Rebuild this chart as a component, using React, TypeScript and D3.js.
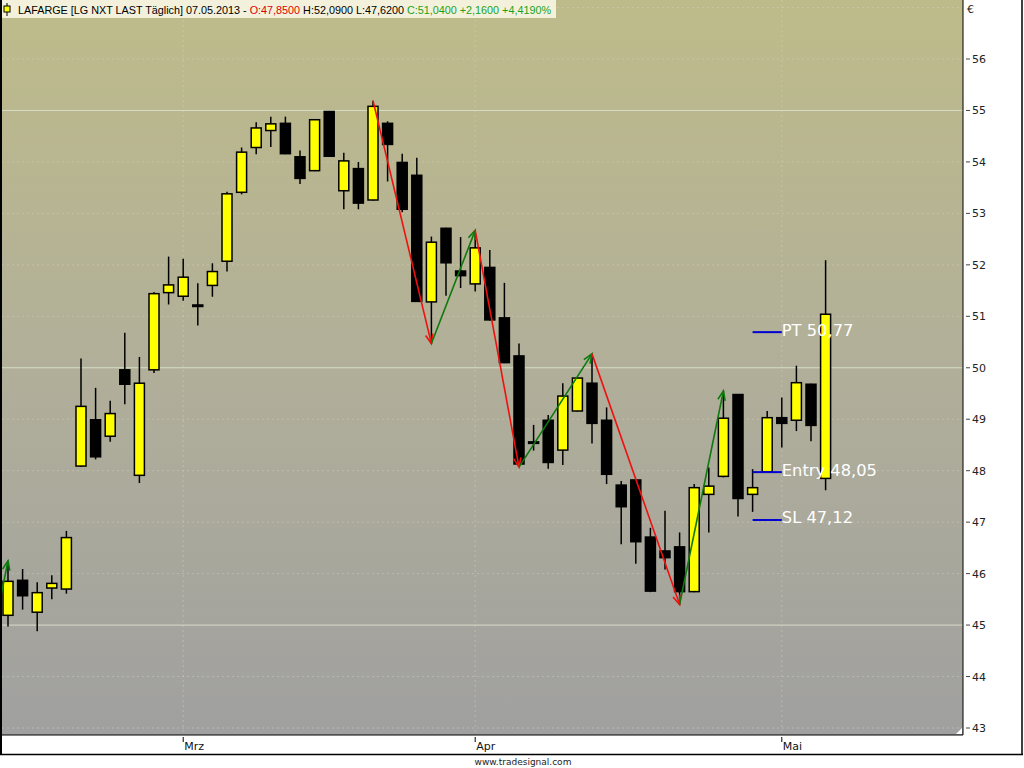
import React from 'react';
import * as d3 from 'd3';

// LAFARGE daily, 13.02.2013 - 07.05.2013
const dates = [
  '2013-02-13', '2013-02-14', '2013-02-15', '2013-02-18', '2013-02-19', '2013-02-20', '2013-02-21', '2013-02-22',
  '2013-02-25', '2013-02-26', '2013-02-27', '2013-02-28',
  '2013-03-01', '2013-03-04', '2013-03-05', '2013-03-06', '2013-03-07', '2013-03-08', '2013-03-11', '2013-03-12',
  '2013-03-13', '2013-03-14', '2013-03-15', '2013-03-18', '2013-03-19', '2013-03-20', '2013-03-21', '2013-03-22',
  '2013-03-25', '2013-03-26', '2013-03-27', '2013-03-28',
  '2013-04-02', '2013-04-03', '2013-04-04', '2013-04-05', '2013-04-08', '2013-04-09', '2013-04-10', '2013-04-11',
  '2013-04-12', '2013-04-15', '2013-04-16', '2013-04-17', '2013-04-18', '2013-04-19', '2013-04-22', '2013-04-23',
  '2013-04-24', '2013-04-25', '2013-04-26', '2013-04-29', '2013-04-30',
  '2013-05-02', '2013-05-03', '2013-05-06', '2013-05-07',
];

const opens = [
  45.19, 45.87, 45.25, 45.72, 45.70, 48.09, 48.99, 48.67, 49.96, 47.91,
  49.96, 51.46, 51.39, 51.22, 51.60, 52.07, 53.41, 54.28, 54.61, 54.75,
  54.10, 53.83, 54.98, 53.44, 53.87, 53.26, 54.75, 53.99, 53.74, 51.28,
  52.71, 51.88, 51.63, 51.95, 50.97, 50.23, 48.56, 48.98, 48.40, 49.16,
  49.70, 48.98, 47.72, 47.82, 46.71, 46.44, 46.52, 45.65, 47.54, 47.89,
  49.48, 47.54, 47.98, 49.03, 48.98, 49.68, 47.85,
];
const highs = [
  46.25, 46.09, 45.83, 45.97, 46.83, 50.18, 49.61, 49.36, 50.68, 50.21,
  51.47, 52.16, 52.12, 51.64, 52.03, 53.42, 54.28, 54.77, 54.88, 54.88,
  54.22, 54.83, 54.99, 54.18, 54.00, 55.19, 54.79, 54.16, 54.08, 52.55,
  52.72, 52.54, 52.67, 52.29, 51.65, 50.47, 48.89, 49.08, 49.70, 49.82,
  50.27, 49.23, 47.80, 47.83, 46.89, 47.22, 46.80, 47.74, 48.06, 49.55,
  49.49, 48.03, 49.16, 49.42, 50.04, 49.69, 52.09,
];
const lows = [
  44.97, 45.30, 44.88, 45.50, 45.61, 48.07, 48.22, 48.56, 49.29, 47.76,
  49.90, 51.23, 51.30, 50.82, 51.38, 51.87, 53.37, 54.15, 54.29, 54.15,
  53.57, 53.82, 54.10, 53.08, 53.08, 53.25, 53.62, 53.02, 51.28, 50.47,
  51.40, 51.55, 51.48, 50.92, 50.09, 48.07, 48.39, 48.04, 48.11, 49.15,
  48.53, 47.74, 46.57, 46.19, 45.64, 46.08, 45.40, 45.64, 46.80, 47.87,
  47.11, 47.20, 47.97, 48.45, 48.77, 48.57, 47.62,
];
const closes = [
  45.85, 45.57, 45.63, 45.81, 46.70, 49.25, 48.27, 49.11, 49.68, 49.70,
  51.44, 51.61, 51.76, 51.20, 51.87, 53.38, 54.19, 54.66, 54.74, 54.16,
  53.68, 54.82, 54.11, 54.02, 53.20, 55.08, 54.34, 53.08, 51.29, 52.44,
  52.04, 51.79, 52.33, 50.93, 50.10, 48.13, 48.54, 48.16, 49.45, 49.80,
  48.92, 47.93, 47.30, 46.62, 45.66, 46.31, 45.65, 47.67, 47.70, 49.02,
  47.46, 47.67, 49.03, 48.92, 49.71, 48.88, 51.04,
];

// zigzag runs (bar index, price); run 1 comes in from off-chart
const zigRun1Idx = [-1, 0];
const zigRun1Val = [44.83, 46.25];
const zigRun2Idx = [25, 29, 32, 35, 40, 46, 49];
const zigRun2Val = [55.19, 50.47, 52.67, 48.07, 50.27, 45.40, 49.55];

// trade levels
const levelNames = ['PT', 'Entry', 'SL'];
const levelValues = [50.77, 48.05, 47.12];
const levelFrom = 51;
const levelTo = 53;

const yTicks = [43, 44, 45, 46, 47, 48, 49, 50, 51, 52, 53, 54, 55, 56];
const gridLevels = [43, 44, 45, 46, 47, 48, 49, 50, 51, 52, 53, 54, 55, 56, 57];
const majorGrid = [45, 50, 55];
const monthLabels = ['Mrz', 'Apr', 'Mai'];
const monthStarts = ['2013-03-01', '2013-04-02', '2013-05-02'];

const W = 1024;
const H = 768;
const plot = { left: 2, right: 963, top: 0, bottom: 735 };

const fmt = (v: number) => v.toFixed(2).replace('.', ',');
const fmt4 = (v: number) => v.toFixed(4).replace('.', ',');

export default function App() {
  const x = d3.scaleLinear().domain([0, 56]).range([8, 825.6]);
  const y = d3.scaleLinear().domain([43, 56]).range([728, 59]);
  const bodyW = 10;

  const n = dates.length;
  const last = n - 1;
  const chg = closes[last] - closes[last - 1];
  const pct = (chg / closes[last - 1]) * 100;
  const d = dates[last].split('-');
  const dateStr = `${d[2]}.${d[1]}.${d[0]}`;

  const buildSegs = (idx: number[], val: number[]) =>
    idx.slice(1).map((xi, i) => {
      const x1 = x(idx[i]);
      const y1 = y(val[i]);
      const x2 = x(xi);
      const y2 = y(val[i + 1]);
      const up = val[i + 1] > val[i];
      const ang = Math.atan2(y2 - y1, x2 - x1);
      const len = 10;
      const spread = 0.38;
      const hx1 = x2 - len * Math.cos(ang - spread);
      const hy1 = y2 - len * Math.sin(ang - spread);
      const hx2 = x2 - len * Math.cos(ang + spread);
      const hy2 = y2 - len * Math.sin(ang + spread);
      return { x1, y1, x2, y2, up, head: `M${hx1},${hy1}L${x2},${y2}L${hx2},${hy2}` };
    });
  const segments = [...buildSegs(zigRun1Idx, zigRun1Val), ...buildSegs(zigRun2Idx, zigRun2Val)];

  const axisFont = "Tahoma, 'DejaVu Sans', sans-serif";

  return (
    <svg width={W} height={H} style={{ position: 'absolute', left: 0, top: 0, background: '#fff' }}>
      <defs>
        <linearGradient id="bg" x1="0" y1="0" x2="0" y2="1">
          <stop offset="0%" stopColor="#bebb8a" />
          <stop offset="50%" stopColor="#b1af99" />
          <stop offset="100%" stopColor="#a0a0a0" />
        </linearGradient>
        <clipPath id="plotClip">
          <rect x={plot.left} y={plot.top} width={plot.right - plot.left} height={plot.bottom - plot.top} />
        </clipPath>
      </defs>

      <rect x={0} y={0} width={W} height={H} fill="#fff" />
      <rect x={plot.left} y={plot.top} width={plot.right - plot.left} height={plot.bottom - plot.top} fill="url(#bg)" />

      {/* grid */}
      <g clipPath="url(#plotClip)">
        {gridLevels.map((v) =>
          majorGrid.includes(v) ? (
            <line key={v} x1={plot.left} x2={plot.right} y1={y(v)} y2={y(v)} stroke="#d6ddc8" strokeWidth={1} />
          ) : (
            <line key={v} x1={plot.left} x2={plot.right} y1={y(v)} y2={y(v)} stroke="#d4d3c2" strokeOpacity={0.45} strokeWidth={1} strokeDasharray="2,3" />
          )
        )}
        {monthStarts.map((m) => {
          const xi = x(dates.indexOf(m));
          return <line key={m} x1={xi} x2={xi} y1={plot.top} y2={plot.bottom} stroke="#d4d3c2" strokeOpacity={0.45} strokeDasharray="2,3" />;
        })}
      </g>

      {/* header */}
      <rect x={0} y={0} width={556} height={18} fill="#f3f1dc" />
      <line x1={7} x2={7} y1={3} y2={16} stroke="#000" strokeWidth={1} />
      <rect x={4} y={6} width={6} height={6} fill="#ffff00" stroke="#000" strokeWidth={1} />
      <text x={18} y={13.5} fontFamily="'Liberation Sans', Arial, sans-serif" fontSize={10.8} fill="#000">
        <tspan>{`LAFARGE [LG NXT LAST Täglich] ${dateStr} - `}</tspan>
        <tspan fill="#e00000">{`O:${fmt4(opens[last])}`}</tspan>
        <tspan>{` H:${fmt4(highs[last])} L:${fmt4(lows[last])} `}</tspan>
        <tspan fill="#1aa31a">{`C:${fmt4(closes[last])} +${fmt4(chg)} +${fmt4(pct)}%`}</tspan>
      </text>

      {/* candles */}
      <g clipPath="url(#plotClip)">
        {dates.map((dt, i) => {
          const cx = x(i);
          const up = closes[i] >= opens[i];
          const top = y(Math.max(opens[i], closes[i]));
          const bot = y(Math.min(opens[i], closes[i]));
          const h = Math.max(bot - top, 1.5);
          return (
            <g key={dt}>
              <line x1={cx} x2={cx} y1={y(highs[i])} y2={y(lows[i])} stroke="#000" strokeWidth={1.5} />
              <rect x={cx - bodyW / 2} y={top} width={bodyW} height={h} fill={up ? '#ffff00' : '#000'} stroke="#000" strokeWidth={1.5} />
            </g>
          );
        })}

        {/* zigzag arrows */}
        {segments.map((s, i) => (
          <g key={i} stroke={s.up ? '#0c7a0c' : '#f01010'} strokeWidth={1.6} fill="none">
            <line x1={s.x1} y1={s.y1} x2={s.x2} y2={s.y2} />
            <path d={s.head} />
          </g>
        ))}

        {/* trade levels */}
        {levelNames.map((name, i) => {
          const ly = y(levelValues[i]) + 4;
          return (
            <g key={name}>
              <line x1={x(levelFrom)} x2={x(levelTo)} y1={ly} y2={ly} stroke="#0000d0" strokeWidth={2} />
              <text x={x(levelTo)} y={ly + 3.5} fill="#fff" fontFamily="'DejaVu Sans', Verdana, sans-serif" fontSize={16.3}>
                {`${name} ${fmt(levelValues[i])}`}
              </text>
            </g>
          );
        })}
      </g>

      {/* resize grip */}
      <path d={`M${plot.right - 1},${plot.bottom - 7}L${plot.right - 1},${plot.bottom - 1}L${plot.right - 7},${plot.bottom - 1}Z`} fill="#fff" />

      {/* frame */}
      <line x1={1} x2={1} y1={0} y2={755} stroke="#000" strokeWidth={2} />
      <line x1={plot.right} x2={plot.right} y1={0} y2={plot.bottom} stroke="#000" strokeWidth={1} />
      <line x1={0} x2={plot.right} y1={plot.bottom} y2={plot.bottom} stroke="#000" strokeWidth={1} />
      <line x1={0} x2={1023} y1={754.5} y2={754.5} stroke="#000" strokeWidth={1.5} />
      <line x1={1022} x2={1022} y1={0} y2={755} stroke="#000" strokeWidth={1.5} />

      {/* right axis */}
      <text x={967} y={13} fontFamily={axisFont} fontSize={11} fill="#222">€</text>
      {yTicks.map((v) => (
        <g key={v}>
          <line x1={966} x2={970} y1={y(v)} y2={y(v)} stroke="#444" strokeWidth={1} />
          <text x={972} y={y(v) + 4} fontFamily={axisFont} fontSize={11} fill="#222">{v}</text>
        </g>
      ))}

      {/* month axis */}
      {monthStarts.map((m, i) => {
        const xi = x(dates.indexOf(m));
        return (
          <g key={m}>
            <line x1={xi} x2={xi} y1={737} y2={742} stroke="#000" strokeWidth={1} />
            <text x={xi + 1} y={750} fontFamily={axisFont} fontSize={11} fill="#111">{monthLabels[i]}</text>
          </g>
        );
      })}

      <text x={523} y={765} textAnchor="middle" fontFamily={axisFont} fontSize={9} fill="#222">www.tradesignal.com</text>
    </svg>
  );
}
